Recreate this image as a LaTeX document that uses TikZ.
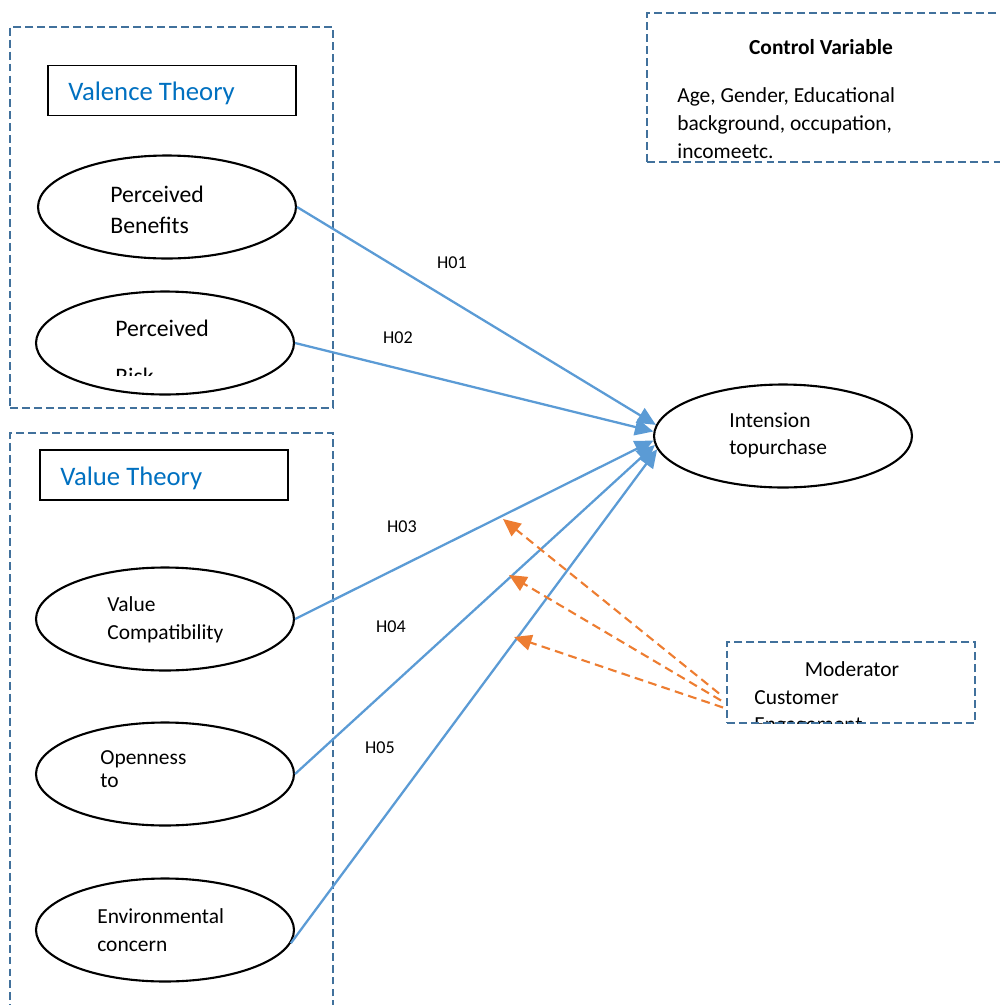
\documentclass[tikz,border=0pt]{standalone}
\usepackage{fontspec}
\setmainfont{Carlito}
\usetikzlibrary{shapes.geometric,arrows.meta,calc}
\definecolor{boxblue}{HTML}{41719C}
\definecolor{linkblue}{HTML}{5B9BD5}
\definecolor{modorange}{HTML}{ED7D31}
\definecolor{titleblue}{HTML}{0070C0}

\begin{document}
\begin{tikzpicture}[x=0.02cm,y=-0.02cm,
  groupbox/.style={draw=boxblue, line width=1.1pt, dash pattern=on 4.5pt off 2.3pt, inner sep=0pt},
  titlebox/.style={draw=black, line width=0.6pt, inner sep=0pt, minimum width=4.96cm, minimum height=1.0cm},
  construct/.style={ellipse, draw=black, line width=1.2pt, minimum width=5.16cm, minimum height=2.06cm, inner sep=0pt},
  lbl/.style={anchor=base west, inner sep=0pt, font=\fontsize{12.2}{14}\selectfont},
  biglbl/.style={lbl, font=\fontsize{13.5}{16}\selectfont},
  theory/.style={lbl, text=titleblue, font=\fontsize{15.2}{18}\selectfont},
  hyp/.style={inner sep=0pt, font=\fontsize{10.3}{12}\selectfont},
  link/.style={draw=linkblue, line width=1.3pt, -{Triangle[length=10.5pt,width=9.5pt]}},
  modlink/.style={draw=modorange, line width=1.2pt, dash pattern=on 5pt off 3pt,
    -{Triangle[length=10pt,width=9pt,sep=0pt]}}
]
\useasboundingbox (0,0) rectangle (1000,1005);
\clip (0,0) rectangle (1000,1005);

% theory group frames
\node[groupbox, minimum width=6.46cm, minimum height=7.62cm] (valence) at (171.5,217.5) {};
\node[groupbox, minimum width=6.46cm, minimum height=11.74cm] (value) at (171.5,726.5) {};

% theory titles
\node[titlebox] (valtitle) at (172,90.5) {};
\node[theory] (valtext) at (68,100) {Valence Theory};
\node[titlebox] (vtitle) at (164,475) {};
\node[theory] (vtext) at (60,485) {Value Theory};

% constructs
\node[construct] (pb) at (167,207) {};
\node[biglbl] (pb1) at (110,202) {Perceived};
\node[biglbl] (pb2) at (110,233) {Benefits};

\node[construct] (pr) at (165,343) {};
\node[biglbl] (pr1) at (115,336) {Perceived};
\begin{scope}
  \clip (100,360) rectangle (250,375);
  \node[biglbl] (pr2) at (115,384) {Risk};
\end{scope}

\node[construct] (vc) at (165,619) {};
\node[lbl] (vc1) at (107,611) {Value};
\node[lbl] (vc2) at (107,639) {Compatibility};

\node[construct] (oc) at (165,774) {};
\node[lbl] (oc1) at (100,764) {Openness};
\node[lbl] (oc2) at (100,787) {to};

\node[construct] (ec) at (165,930) {};
\node[lbl] (ec1) at (97,923) {Environmental};
\node[lbl] (ec2) at (97,951) {concern};

\node[construct] (int) at (783,436) {};
\node[lbl] (int1) at (729,427) {Intension};
\node[lbl] (int2) at (729,454) {topurchase};

% control variables
\node[lbl, font=\fontsize{12.2}{14}\selectfont\bfseries, anchor=base] (ctitle) at (821,54) {Control Variable};
\node[lbl] (c1) at (677,102) {Age, Gender, Educational};
\node[lbl] (c2) at (677,130) {background, occupation,};
\node[lbl] (c3) at (677,158) {incomeetc.};
\node[groupbox, minimum width=7.26cm, minimum height=2.98cm] (ctrl) at (828.5,87.5) {};

% moderator
\node[lbl, anchor=base] (mtitle) at (852,676) {Moderator};
\node[lbl] (m1t) at (754,704) {Customer};
\begin{scope}
  \clip (740,700) rectangle (970,723);
  \node[lbl] (m2t) at (754,731) {Engagement};
\end{scope}
\node[groupbox, minimum width=4.96cm, minimum height=1.62cm] (mod) at (851,682.5) {};

% hypothesised paths
\draw[link] (pb.east) -- (int.175);
\draw[link] (pr.east) -- (int.178);
\draw[link] (vc.east) -- (int.182);
\draw[link] (oc.east) -- (int.184);
\draw[link] (ec.-6) -- (int.186);

\node[hyp] (h1) at (452,263) {H01};
\node[hyp] (h2) at (398,338) {H02};
\node[hyp] (h3) at (402,527) {H03};
\node[hyp] (h4) at (391,627) {H04};
\node[hyp] (h5) at (380,748) {H05};

% moderating effects
\coordinate (mt1) at (503,519);
\coordinate (mt2) at (509,575);
\coordinate (mt3) at (514,637);
\draw[modlink] ($(mod.west)+(-7,11)$) -- (mt1);
\draw[modlink] ($(mod.west)+(-5,18)$) -- (mt2);
\draw[modlink] ($(mod.west)+(-3,25)$) -- (mt3);
\end{tikzpicture}
\end{document}
